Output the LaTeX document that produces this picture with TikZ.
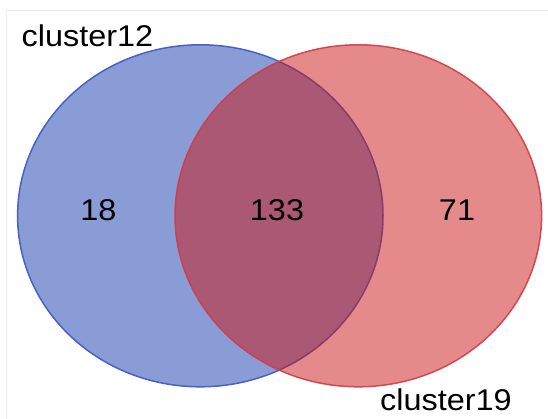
\documentclass[tikz,border=0pt]{standalone}
\usepackage{fontspec}
\setmainfont{Liberation Sans}
\definecolor{bluebase}{RGB}{21,57,173}
\definecolor{bluestroke}{RGB}{72,96,200}
\definecolor{redbase}{RGB}{203,21,21}
\definecolor{redstroke}{RGB}{210,60,70}
\definecolor{framegray}{RGB}{238,238,238}
\begin{document}
\begin{tikzpicture}[x=1pt,y=-1pt,
  lbl/.style={inner sep=0pt, font=\fontsize{30}{32}\selectfont, xscale=1.08, anchor=base west},
  num/.style={inner sep=0pt, font=\fontsize{30}{32}\selectfont, xscale=1.08, anchor=base},
  setA/.style={fill=bluebase, fill opacity=0.5, draw=bluestroke, line width=1.5pt},
  setB/.style={fill=redbase, fill opacity=0.5, draw=redstroke, draw opacity=0.9, line width=1.5pt}]
\useasboundingbox (0,0) rectangle (548,419);
\draw[framegray, line width=1pt] (6.3,419) -- (6.3,10.5) -- (548,10.5);
\path[setA] (200.3,215.8) ellipse [x radius=182.7, y radius=171];
\path[setB] (358.3,215.8) ellipse [x radius=183.3, y radius=171];
\node[lbl] (l12) at (21.5,46.7) {cluster12};
\node[lbl] (l19) at (380,410) {cluster19};
\node[num] (n18) at (98.5,220.7) {18};
\node[num] (n133) at (277,220.7) {133};
\node[num] (n71) at (457,220.7) {71};
\end{tikzpicture}
\end{document}
